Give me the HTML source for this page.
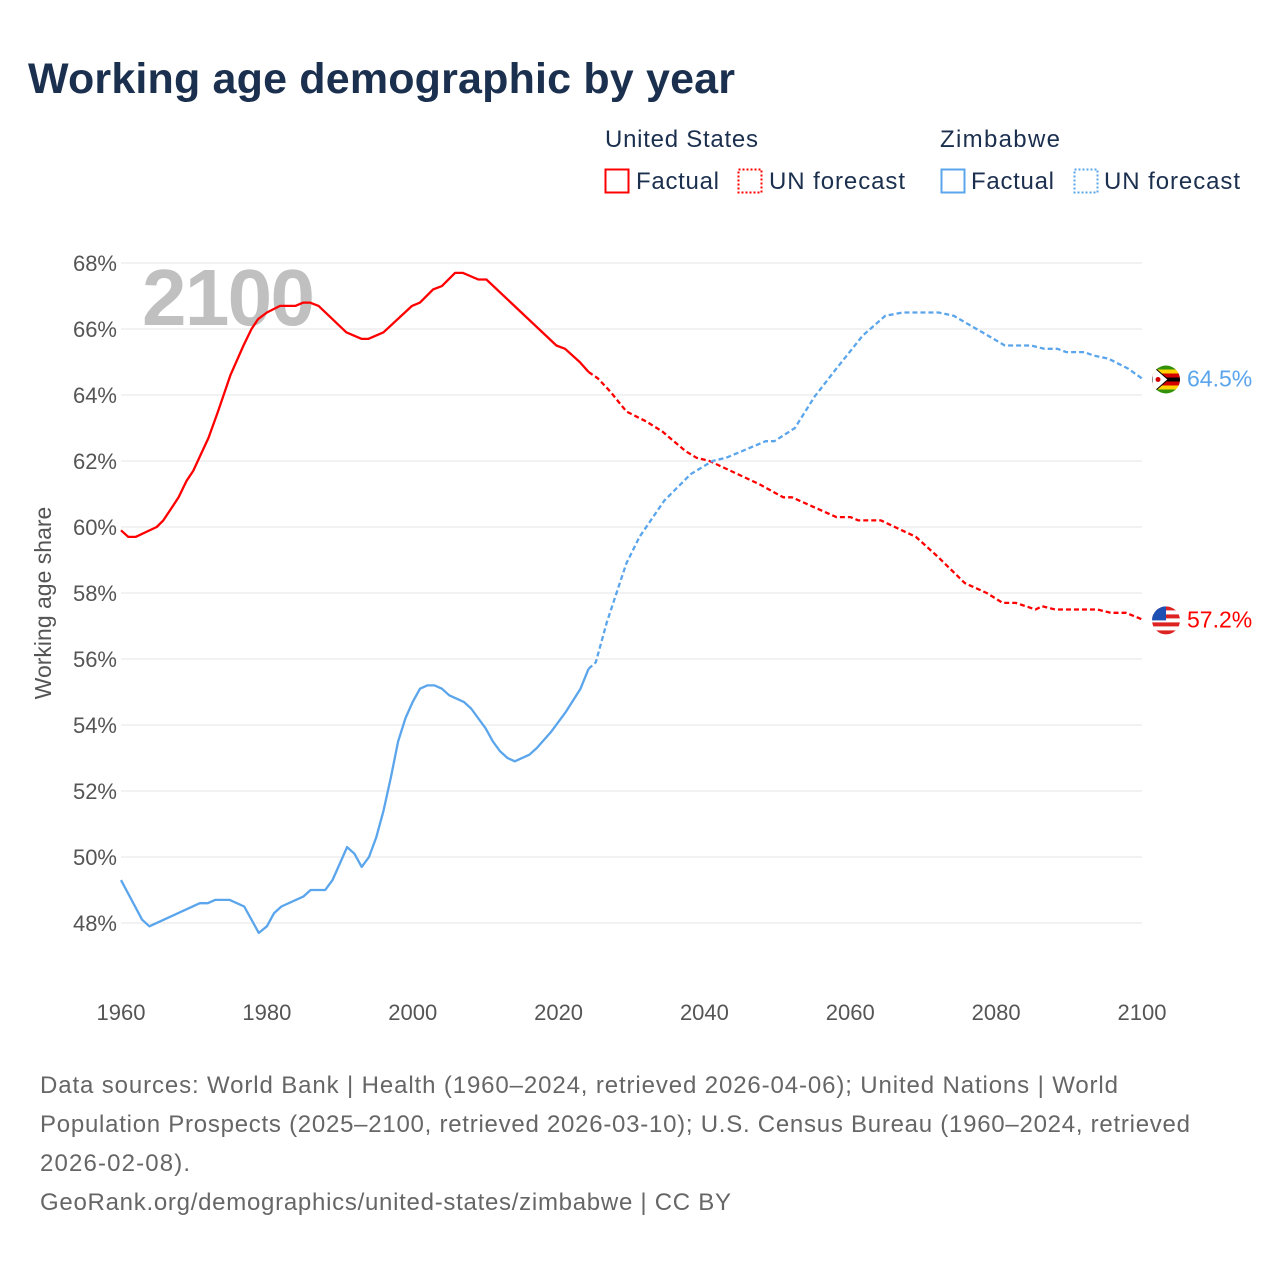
<!DOCTYPE html>
<html><head><meta charset="utf-8"><style>
body{margin:0;background:#fff;font-family:"Liberation Sans",sans-serif}
svg text{font-family:"Liberation Sans",sans-serif}
</style></head><body>
<svg id="chart" width="1280" height="1280" viewBox="0 0 1280 1280">
<text x="28" y="93" font-size="43" font-weight="bold" fill="#1b2f4e" textLength="707">Working age demographic by year</text>
<g font-size="24" fill="#1b2f4e">
<text x="605" y="147" textLength="153">United States</text>
<rect x="605.5" y="169.5" width="23" height="23" fill="none" stroke="#ff0000" stroke-width="2"/>
<text x="636" y="189" textLength="83">Factual</text>
<rect x="738.5" y="169.5" width="23" height="23" fill="none" stroke="#ff0000" stroke-width="2" stroke-dasharray="2 2"/>
<text x="769" y="189" textLength="136">UN forecast</text>
<text x="940" y="147" textLength="120">Zimbabwe</text>
<rect x="941.5" y="169.5" width="23" height="23" fill="none" stroke="#5aa5ec" stroke-width="2"/>
<text x="971" y="189" textLength="83">Factual</text>
<rect x="1074.5" y="169.5" width="23" height="23" fill="none" stroke="#5aa5ec" stroke-width="2" stroke-dasharray="2 2"/>
<text x="1104" y="189" textLength="136">UN forecast</text>
</g>
<g id="grid"></g>
<text x="142" y="325" font-size="80" font-weight="bold" fill="#c0c0c0" textLength="173">2100</text>
<g id="axes"></g>
<g id="series"></g>
<text transform="translate(51,603) rotate(-90)" text-anchor="middle" font-size="23" fill="#555">Working age share</text>
<g font-size="24" fill="#666">
<text x="40" y="1093" textLength="1078">Data sources: World Bank | Health (1960–2024, retrieved 2026-04-06); United Nations | World</text>
<text x="40" y="1132" textLength="1150">Population Prospects (2025–2100, retrieved 2026-03-10); U.S. Census Bureau (1960–2024, retrieved</text>
<text x="40" y="1171" textLength="150">2026-02-08).</text>
<text x="40" y="1210" textLength="691">GeoRank.org/demographics/united-states/zimbabwe | CC BY</text>
</g>
</svg>
<script>
const yTicks=[48,50,52,54,56,58,60,62,64,66,68];
const xTicks=[1960,1980,2000,2020,2040,2060,2080,2100];
const usFactYears=[1960,1961,1962,1964.9,1965.8,1967,1967.9,1969,1969.9,1972,1973.3,1975,1976.8,1977.9,1978.8,1980,1981.8,1983.9,1985,1985.9,1987.1,1990.9,1993,1993.9,1996,1999.9,2001,2002.8,2004,2005.8,2006.9,2009,2010.1,2019.7,2020.9,2022.9,2024.1];
const usFactVals=[59.9,59.7,59.7,60.0,60.2,60.6,60.9,61.4,61.7,62.7,63.5,64.6,65.5,66.0,66.3,66.5,66.7,66.7,66.8,66.8,66.7,65.9,65.7,65.7,65.9,66.7,66.8,67.2,67.3,67.7,67.7,67.5,67.5,65.5,65.4,65.0,64.7];
const usFcYears=[2024.1,2025.4,2027.1,2029.3,2032,2034.2,2037.4,2038.9,2040.7,2047.5,2050.8,2052,2058.1,2060,2061.1,2064.2,2069,2072,2075.7,2078.7,2080.9,2082.7,2085.4,2086.3,2088.1,2093.9,2095.7,2097.8,2100];
const usFcVals=[64.7,64.5,64.1,63.5,63.2,62.9,62.3,62.1,62.0,61.3,60.9,60.9,60.3,60.3,60.2,60.2,59.7,59.1,58.3,58.0,57.7,57.7,57.5,57.6,57.5,57.5,57.4,57.4,57.2];
const zwFactYears=[1960,1962.9,1963.9,1970.8,1971.9,1972.9,1974.9,1976.9,1978.9,1980,1981,1982,1985,1986,1988,1989,1991,1992,1993,1994,1995,1996,1997,1998,1999,2000,2001,2002,2003,2004,2005,2007,2008,2010,2011,2012,2013,2014,2016,2017,2019,2021,2023,2024.1];
const zwFactVals=[49.3,48.1,47.9,48.6,48.6,48.7,48.7,48.5,47.7,47.9,48.3,48.5,48.8,49.0,49.0,49.3,50.3,50.1,49.7,50.0,50.6,51.4,52.4,53.5,54.2,54.7,55.1,55.2,55.2,55.1,54.9,54.7,54.5,53.9,53.5,53.2,53.0,52.9,53.1,53.3,53.8,54.4,55.1,55.7];
const zwFcYears=[2024.1,2025.1,2026.6,2028.1,2029.3,2031.1,2034.5,2038.1,2041.1,2043,2048.4,2049.6,2052.4,2055.1,2058.1,2061.7,2064.8,2067.2,2072.1,2074.2,2078.1,2081.2,2084.8,2086.6,2088.4,2089.6,2092.1,2093.3,2095.4,2098.1,2100];
const zwFcVals=[55.7,55.9,57.1,58.1,58.9,59.7,60.8,61.6,62.0,62.1,62.6,62.6,63.0,63.95,64.8,65.8,66.4,66.5,66.5,66.4,65.9,65.5,65.5,65.4,65.4,65.3,65.3,65.2,65.1,64.8,64.5];

const NS="http://www.w3.org/2000/svg";
const x=yr=>121+(yr-1960)*(1021/140);
const y=v=>263+(68-v)*33;
function mk(tag,attrs,parent){const e=document.createElementNS(NS,tag);for(const k in attrs)e.setAttribute(k,attrs[k]);parent.appendChild(e);return e;}
const grid=document.getElementById('grid'),axes=document.getElementById('axes'),series=document.getElementById('series');
yTicks.forEach(t=>{
 const l=mk('line',{x1:121,x2:1142,y1:y(t),y2:y(t),stroke:'#e6e6e6','stroke-width':1},grid);
 
 
 const tx=mk('text',{x:117,y:y(t)+8,'text-anchor':'end','font-size':22,fill:'#555'},axes);
 tx.textContent=t+'%';
 
 
});
xTicks.forEach(t=>{
 const tx=mk('text',{x:x(t),y:1020,'text-anchor':'middle','font-size':22,fill:'#555'},axes);
 tx.textContent=t;
 
 
});
function line(ys,vs,color,dash,name){
 const d=ys.map((yr,i)=>(i?'L':'M')+x(yr).toFixed(1)+','+y(vs[i]).toFixed(1)).join('');
 const p=mk('path',{d:d,fill:'none',stroke:color,'stroke-width':2.3,'stroke-linejoin':'round'},series);
 if(dash)p.setAttribute('stroke-dasharray',dash);
 
 
}
line(usFactYears,usFactVals,'#ff0000',null,'us-factual-line');
line(usFcYears,usFcVals,'#ff0000','5 3','us-forecast-line');
line(zwFactYears,zwFactVals,'#5aa5ec',null,'zw-factual-line');
line(zwFcYears,zwFcVals,'#5aa5ec','5 3','zw-forecast-line');

const zwLast=zwFcVals[zwFcVals.length-1], usLast=usFcVals[usFcVals.length-1];
const fz=mk('g',{},series);


const cz=y(zwLast)+1;
mk('clipPath',{id:'cz'},fz).appendChild(document.createElementNS(NS,'circle'));
const czc=fz.querySelector('#cz circle');czc.setAttribute('cx',1166);czc.setAttribute('cy',cz);czc.setAttribute('r',14);
const gz=mk('g',{'clip-path':'url(#cz)'},fz);
['#319208','#ffd200','#d40000','#000','#d40000','#ffd200','#319208'].forEach((c,i)=>mk('rect',{x:1150,y:cz-14+i*4,width:32,height:4.1,fill:c},gz));
mk('path',{d:`M1152,${cz-14} L1168,${cz} L1152,${cz+14} Z`,fill:'#fff',stroke:'#000','stroke-width':1},gz);
mk('circle',{cx:1158,cy:cz,r:2.5,fill:'#d40000'},gz);
const fu=mk('g',{},series);


const cu=y(usLast)+1;
mk('clipPath',{id:'cu'},fu).appendChild(document.createElementNS(NS,'circle'));
const cuc=fu.querySelector('#cu circle');cuc.setAttribute('cx',1166);cuc.setAttribute('cy',cu);cuc.setAttribute('r',14);
const gu=mk('g',{'clip-path':'url(#cu)'},fu);
for(let i=0;i<7;i++)mk('rect',{x:1150,y:cu-14+i*4,width:32,height:4.1,fill:i%2?'#fff':'#d22'},gu);
mk('rect',{x:1150,y:cu-14,width:16,height:14,fill:'#1e50b4'},gu);
const lz=mk('text',{x:1187,y:y(zwLast)+8,'font-size':23,fill:'#5aa5ec'},series);
lz.textContent=zwLast.toFixed(1)+'%';


const lu=mk('text',{x:1187,y:y(usLast)+8,'font-size':23,fill:'#ff0000'},series);
lu.textContent=usLast.toFixed(1)+'%';


</script>
</body></html>
